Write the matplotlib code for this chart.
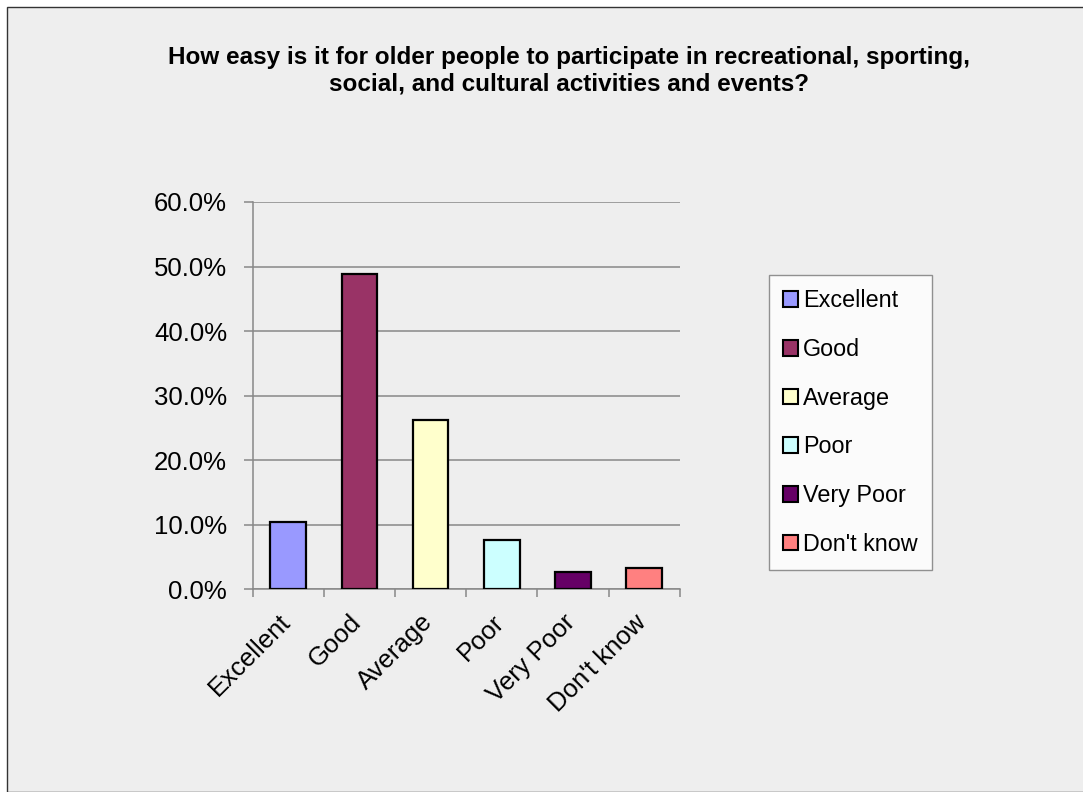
import matplotlib
matplotlib.use("Agg")
import matplotlib.pyplot as plt
import matplotlib.transforms as mtransforms
from matplotlib.patches import Rectangle, Patch

plt.rcParams['font.family'] = ['Liberation Sans', 'DejaVu Sans']

# survey responses (share of respondents)
categories = ["Excellent", "Good", "Average", "Poor", "Very Poor", "Don't know"]
shares = [10.5, 48.8, 26.2, 7.7, 2.7, 3.3]
colors = ["#9999FF", "#993366", "#FFFFCC", "#CCFFFF", "#660066", "#FF8080"]
yticks = [0, 10, 20, 30, 40, 50, 60]

W, H = 1083, 792
fig = plt.figure(figsize=(W / 100, H / 100), dpi=100, facecolor="white")

# chart area panel
fig.patches.append(Rectangle((7 / W, 0), 1.0, 1 - 7 / H, transform=fig.transFigure,
                             facecolor="#EEEEEE", edgecolor="#333333", linewidth=1.0,
                             zorder=-10))

ax = fig.add_axes([252.7 / W, 1 - 589.3 / H, 427 / W, 387.3 / H])
ax.set_facecolor("none")

x = list(range(len(categories)))
ax.bar(x, shares, width=0.5, color=colors, edgecolor="black", linewidth=1.6, zorder=3)

ax.set_xlim(-0.5, len(categories) - 0.5)
ax.set_ylim(0, 60)
ax.set_yticks(yticks)
ax.set_yticklabels([f"{v:.1f}%" for v in yticks], fontsize=18.5)
ax.yaxis.grid(True, color="#888888", linewidth=1.1, zorder=0)
ax.tick_params(axis="y", length=6.5, width=1.1, color="#888888", pad=12)

# ticks between categories, labels at the centres
ax.set_xticks([i - 0.5 for i in range(len(categories) + 1)])
ax.set_xticklabels([])
ax.set_xticks(x, minor=True)
ax.set_xticklabels(categories, minor=True, rotation=45, ha="right",
                   rotation_mode="anchor", fontsize=18.5)
ax.tick_params(axis="x", which="major", length=6, width=1.1, color="#888888")
ax.tick_params(axis="x", which="minor", length=0, pad=9)

# nudge the slanted labels left and down
shift = mtransforms.ScaledTranslation(-10 / 100, -8 / 100, fig.dpi_scale_trans)
for lbl in ax.get_xticklabels(minor=True):
    lbl.set_transform(lbl.get_transform() + shift)

for side in ["top", "right"]:
    ax.spines[side].set_visible(False)
for side in ["left", "bottom"]:
    ax.spines[side].set_color("#888888")
    ax.spines[side].set_linewidth(1.1)

fig.text(0.525, 1 - 71 / H,
         "How easy is it for older people to participate in recreational, sporting,\n"
         "social, and cultural activities and events?",
         ha="center", va="center", fontsize=17.5, fontweight="bold", linespacing=1.2)

handles = [Patch(facecolor=c, edgecolor="black", linewidth=1.5) for c in colors]
leg = fig.legend(handles, categories, loc="upper left",
                 bbox_to_anchor=(769.3 / W, 1 - 275.3 / H),
                 fontsize=16.8, frameon=True, fancybox=False,
                 handlelength=0.65, handleheight=0.65, handletextpad=0.2,
                 labelspacing=1.10, borderpad=0.6, borderaxespad=0)
leg.get_frame().set_edgecolor("#777777")
leg.get_frame().set_facecolor("white")
leg.get_frame().set_linewidth(1.0)

fig.savefig("out.png", dpi=100)
